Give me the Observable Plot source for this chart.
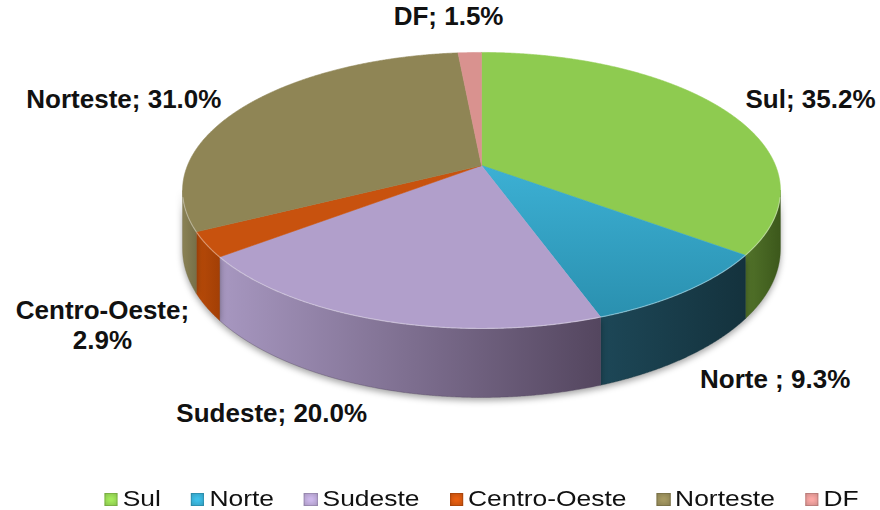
<!DOCTYPE html>
<html>
<head>
<meta charset="utf-8">
<script src="https://cdn.jsdelivr.net/npm/d3@7"></script>
<script src="https://cdn.jsdelivr.net/npm/@observablehq/plot@0.6"></script>
<style>
  body { margin: 0; background: #fff; font-family: "Liberation Sans", Arial, sans-serif; }
  #chart { width: 880px; height: 510px; position: relative; overflow: hidden; }
  #legend { display: flex; align-items: center; transform: scaleX(1.2); transform-origin: 0 0;
            padding-left: 86.7px; margin-top: 20px; height: 18px; font-size: 22px; line-height: 18px; color: #111; white-space: nowrap; }
  .item { display: flex; align-items: center; margin-right: 25px; }
  .sw { width: 11.5px; height: 13px; margin-right: 4px; box-sizing: border-box; border: 1px solid rgba(0,0,0,0.15); }
</style>
</head>
<body>
<div id="chart"></div>
<script>
// ---- data ----
const categories = ["Sul", "Norte", "Sudeste", "Centro-Oeste", "Norteste", "DF"];
const values = [35.2, 9.3, 20.0, 2.9, 31.0, 1.5];
const labelNames = ["Sul", "Norte ", "Sudeste", "Centro-Oeste", "Norteste", "DF"];

// ---- styles ----
const topColors = ["#8ecb50", "url(#topNorte)", "#b19fcb", "#c8520e", "#8f8555", "#d9928f"];
const swatchColors = ["#8ecb50", "#35a6c9", "#b19fcb", "#c8520e", "#8f8555", "#d9928f"];
const sideGrad = [
  ["#52732a", "#3c581b"],
  ["#1d4757", "#14323d"],
  ["#a797c0", "#54465f"],
  ["#b84b09", "#a33f05"],
  ["#8a8256", "#777048"],
  ["#b07270", "#9a6260"]
];
const labelLayout = [
  {anchor: "start", dx: -6, dy: -6},
  {anchor: "start", dx: -15, dy: 2},
  {anchor: "end", dx: 1, dy: -1},
  {anchor: "middle", dx: -67, dy: 6},
  {anchor: "end", dx: 3, dy: -2},
  {anchor: "middle", dx: -20, dy: -26}
];

// ---- geometry (perspective view of a tilted disc) ----
const K = -0.181;   // perspective factor
const T = 0.423;    // thickness (model units)
const W = 880, H = 470;
const CX = 481, CY = 165, SX = 294, SY = 133.5;
function proj(theta, r = 1) {
  const u = r * Math.sin(theta), v = -r * Math.cos(theta);
  const d = 1 + K * v;
  return {x: u / d, y: v / d, d, v};
}
const pie = d3.pie().sort(null).value(d => d)(values);
const step = Math.PI / 720;
function arcPts(a, b) {
  const n = Math.max(2, Math.ceil((b - a) / step));
  return d3.range(n + 1).map(i => a + (b - a) * i / n);
}
const th1 = Math.acos(K), th2 = 2 * Math.PI - Math.acos(K);

const marks = [];
// sides
pie.forEach((p, i) => {
  const a = Math.max(p.startAngle, th1), b = Math.min(p.endAngle, th2);
  if (a >= b) return;
  const ts = arcPts(a, b);
  const top = ts.map(t => { const q = proj(t); return {x: q.x, y: q.y}; });
  const bot = ts.slice().reverse().map(t => { const q = proj(t); return {x: q.x, y: q.y + T / q.d}; });
  const pts = top.concat(bot, [top[0]]);
  marks.push(Plot.line(pts, {x: "x", y: "y", fill: `url(#side${i})`, stroke: sideGrad[i][1], strokeWidth: 0.4, curve: "linear"}));
});
// tops
pie.forEach((p, i) => {
  const ts = arcPts(p.startAngle, p.endAngle);
  const pts = [{x: 0, y: 0}].concat(ts.map(t => { const q = proj(t); return {x: q.x, y: q.y}; }), [{x: 0, y: 0}]);
  marks.push(Plot.line(pts, {x: "x", y: "y", fill: topColors[i], stroke: swatchColors[i], strokeWidth: 0.6, curve: "linear"}));
});
// front rim highlight
{
  const ts = arcPts(th1 + 0.05, th2 - 0.05);
  const pts = ts.map(t => { const q = proj(t); return {x: q.x, y: q.y}; });
  marks.push(Plot.line(pts, {x: "x", y: "y", stroke: "#ffffff", strokeOpacity: 0.35, strokeWidth: 1.2}));
}
// labels
pie.forEach((p, i) => {
  const mid = (p.startAngle + p.endAngle) / 2;
  const q = proj(mid, 1.12);
  const y = q.v > 0.2 ? q.y + T / q.d : q.y;
  const txt = `${labelNames[i]};${i === 3 ? "\n" : " "}${values[i].toFixed(1)}%`;
  const L = labelLayout[i];
  marks.push(Plot.text([{x: q.x, y, text: txt}], {
    x: "x", y: "y", text: "text", textAnchor: L.anchor, lineAnchor: "middle",
    dx: L.dx, dy: L.dy, fontSize: 26, fontWeight: "bold", lineHeight: 1.15,
    fontFamily: "Liberation Sans, Arial, sans-serif", fill: "#111"
  }));
});

const svg = Plot.plot({
  width: W, height: H,
  marginTop: 0, marginRight: 0, marginBottom: 0, marginLeft: 0,
  x: {domain: [-CX / SX, (W - CX) / SX], range: [0, W], axis: null},
  y: {domain: [-CY / SY, (H - CY) / SY], range: [0, H], axis: null},
  style: {background: "white", overflow: "visible"},
  marks
});

// gradients
const defs = d3.select(svg).insert("defs", ":first-child");
sideGrad.forEach((c, i) => {
  const g = defs.append("linearGradient").attr("id", `side${i}`).attr("x1", 0).attr("x2", 1).attr("y1", 0).attr("y2", 0);
  g.append("stop").attr("offset", 0).attr("stop-color", c[0]);
  g.append("stop").attr("offset", 1).attr("stop-color", c[1]);
});
{
  const g = defs.append("linearGradient").attr("id", "topNorte").attr("x1", 0).attr("x2", 0).attr("y1", 0).attr("y2", 1);
  g.append("stop").attr("offset", 0).attr("stop-color", "#3cb0d4");
  g.append("stop").attr("offset", 1).attr("stop-color", "#2a90af");
}
d3.select(svg).selectAll("g[fill^='url(#side']").style("filter", "drop-shadow(0px 3px 3px rgba(0,0,0,0.35))");

const chart = document.getElementById("chart");
chart.appendChild(svg);

// legend
const legend = document.createElement("div");
legend.id = "legend";
categories.forEach((c, i) => {
  const it = document.createElement("span");
  it.className = "item";
  const sw = document.createElement("span");
  sw.className = "sw";
  sw.style.background = `radial-gradient(circle, ${d3.color(swatchColors[i]).brighter(0.4)} 20%, ${swatchColors[i]} 90%)`;
  const tx = document.createElement("span");
  tx.textContent = c;
  it.appendChild(sw); it.appendChild(tx);
  legend.appendChild(it);
});
chart.appendChild(legend);
</script>
</body>
</html>
